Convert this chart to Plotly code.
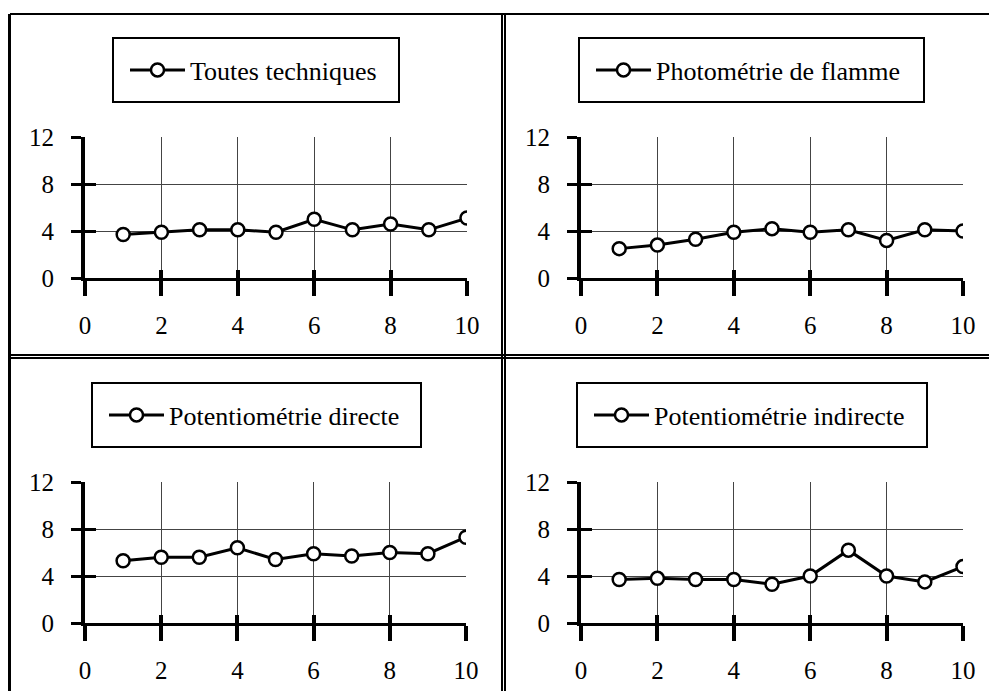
import plotly.graph_objects as go

W, H = 989, 691

x_vals = [1, 2, 3, 4, 5, 6, 7, 8, 9, 10]
names = ["Toutes techniques", "Photométrie de flamme",
         "Potentiométrie directe", "Potentiométrie indirecte"]
toutes = [3.7, 3.9, 4.1, 4.1, 3.9, 5.0, 4.1, 4.6, 4.1, 5.1]
flamme = [2.5, 2.8, 3.3, 3.9, 4.2, 3.9, 4.1, 3.2, 4.1, 4.0]
directe = [5.3, 5.6, 5.6, 6.4, 5.4, 5.9, 5.7, 6.0, 5.9, 7.3]
indirecte = [3.7, 3.8, 3.7, 3.7, 3.3, 4.0, 6.2, 4.0, 3.5, 4.8]
series = [toutes, flamme, directe, indirecte]
x_ticks = [0, 2, 4, 6, 8, 10]
y_ticks = [0, 4, 8, 12]

FONT = "'Liberation Serif', 'Times New Roman', Times, serif"


def px(x):
    return x / W


def py(y):
    return 1 - y / H


# plot-area pixel boxes (left, right, top, bottom)
boxes = [(85, 467, 137, 278), (581, 963, 137, 278),
         (85, 466, 482, 623), (581, 963, 482, 623)]
# legend frame boxes (left, right, top, bottom)
leg_boxes = [(113, 399, 38, 102), (579, 924, 38, 102),
             (92, 421, 383, 447), (577, 927, 383, 447)]

fig = go.Figure()
layout = dict(width=W, height=H, template="none",
              margin=dict(l=0, r=0, t=0, b=0, pad=0, autoexpand=False),
              paper_bgcolor="white", plot_bgcolor="white",
              font=dict(family=FONT, color="black"), shapes=[])

for i, vals in enumerate(series):
    k = i + 1
    sx = "" if k == 1 else str(k)
    lg = "legend" if k == 1 else f"legend{k}"
    fig.add_trace(go.Scatter(
        x=x_vals, y=vals, mode="lines+markers", name=names[i],
        xaxis=f"x{sx}", yaxis=f"y{sx}", legend=lg,
        line=dict(color="black", width=3),
        marker=dict(symbol="circle", size=13, color="white",
                    line=dict(color="black", width=2.5)),
    ))
    # helper empty traces for overlay tick axes (inside part of crossing ticks)
    fig.add_trace(go.Scatter(x=[None], y=[None], xaxis=f"x{k+4}", yaxis=f"y{sx}",
                             showlegend=False, hoverinfo="skip"))
    fig.add_trace(go.Scatter(x=[None], y=[None], xaxis=f"x{sx}", yaxis=f"y{k+4}",
                             showlegend=False, hoverinfo="skip"))

    l, r, t, b = boxes[i]
    layout[f"xaxis{sx}"] = dict(
        domain=[px(l), px(r)], anchor=f"y{sx}", range=[0, 10], automargin=False,
        tickmode="array", tickvals=x_ticks, ticks="outside", ticklen=15,
        tickwidth=4, tickcolor="black", showline=True, linewidth=3,
        linecolor="black", showgrid=True, gridcolor="#444", gridwidth=1,
        zeroline=False, ticklabelstandoff=8,
        tickfont=dict(family=FONT, size=25, color="black"),
    )
    layout[f"yaxis{sx}"] = dict(
        domain=[py(b), py(t)], anchor=f"x{sx}", range=[0, 12], automargin=False,
        tickmode="array", tickvals=y_ticks, ticks="outside", ticklen=10,
        tickwidth=2.5, tickcolor="black", showline=True, linewidth=4,
        linecolor="black", showgrid=True, gridcolor="#444", gridwidth=1,
        zeroline=False, ticklabelstandoff=12,
        tickfont=dict(family=FONT, size=25, color="black"),
    )
    layout[f"xaxis{k+4}"] = dict(
        overlaying=f"x{sx}", anchor=f"y{sx}", range=[0, 10], automargin=False,
        tickmode="array", tickvals=x_ticks, ticks="inside", ticklen=8,
        tickwidth=4, tickcolor="black", showline=False, showgrid=False,
        zeroline=False, showticklabels=False,
    )
    layout[f"yaxis{k+4}"] = dict(
        overlaying=f"y{sx}", anchor=f"x{sx}", range=[0, 12], automargin=False,
        tickmode="array", tickvals=y_ticks, ticks="inside", ticklen=11,
        tickwidth=2.5, tickcolor="black", showline=False, showgrid=False,
        zeroline=False, showticklabels=False,
    )

    ll, lr, lt, lb = leg_boxes[i]
    layout["legend" if k == 1 else f"legend{k}"] = dict(
        x=px(ll + 12), y=py((lt + lb) / 2), xanchor="left", yanchor="middle",
        bgcolor="rgba(0,0,0,0)", borderwidth=0, itemwidth=55,
        font=dict(family=FONT, size=26, color="black"),
    )
    layout["shapes"].append(dict(
        type="rect", xref="paper", yref="paper",
        x0=px(ll), x1=px(lr), y0=py(lb), y1=py(lt),
        line=dict(color="black", width=2), fillcolor="rgba(0,0,0,0)",
    ))

# outer frame and double dividers
frame = [
    (10, 14, 989, 14, 2),
    (9.5, 14, 9.5, 691, 3),
    (502, 14, 502, 691, 2),
    (505, 14, 505, 691, 2),
    (10, 355, 989, 355, 2),
    (10, 358, 989, 358, 2),
]
for x0, y0, x1, y1, w in frame:
    layout["shapes"].append(dict(
        type="line", xref="paper", yref="paper",
        x0=px(x0), y0=py(y0), x1=px(x1), y1=py(y1),
        line=dict(color="black", width=w),
    ))

fig.update_layout(**layout)
fig.write_html("out.html", config={"displayModeBar": False})
